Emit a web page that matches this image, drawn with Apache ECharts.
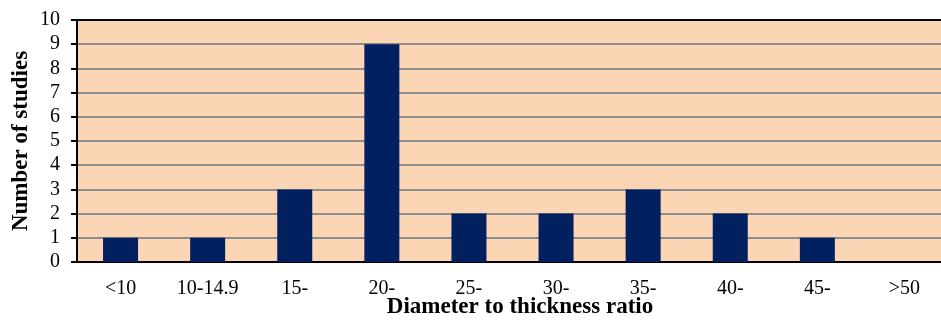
<!DOCTYPE html>
<html><head><meta charset="utf-8">
<script src="https://cdn.jsdelivr.net/npm/echarts@6/dist/echarts.min.js"></script>
<style>html,body{margin:0;padding:0;background:#fff}#c{width:941px;height:321px}</style>
</head><body><div id="c"></div>
<script>
const categories = ['<10','10-14.9','15-','20-','25-','30-','35-','40-','45-','>50'];
const studies = [1,1,3,9,2,2,3,2,1,0];
const yTicks = [0,1,2,3,4,5,6,7,8,9,10];
const yTitle = 'Number of studies';
const xTitle = 'Diameter to thickness ratio';

const font = '"Liberation Serif","Times New Roman",serif';
const chart = echarts.init(document.getElementById('c'), null, {renderer:'canvas'});
chart.setOption({
  animation:false,
  grid:{left:77, top:20, bottom:59, right:-7, outerBoundsMode:'none', containLabel:false,
    show:true, backgroundColor:'#FCD5B4', borderColor:'#000', borderWidth:0},
  xAxis:{type:'category', data:categories,
    axisLine:{lineStyle:{color:'#000', width:2}},
    axisTick:{show:false},
    axisLabel:{color:'#000', fontFamily:font, fontSize:20, margin:17},
    name:xTitle, nameLocation:'middle', nameGap:34, nameMoveOverlap:false,
    nameTextStyle:{color:'#000', fontFamily:font, fontSize:23, fontWeight:'bold', padding:[0,0,0,15]}
  },
  yAxis:{type:'value', min:yTicks[0], max:yTicks[yTicks.length-1], interval:1,
    axisLine:{show:true, lineStyle:{color:'#000', width:2}},
    axisTick:{show:true, length:6, lineStyle:{color:'#000', width:2}},
    axisLabel:{color:'#000', fontFamily:font, fontSize:20, margin:17},
    splitLine:{lineStyle:{color:'#8c8c8c', width:2}},
    name:yTitle, nameLocation:'middle', nameGap:44, nameRotate:90, nameMoveOverlap:false,
    nameTextStyle:{color:'#000', fontFamily:font, fontSize:23, fontWeight:'bold'}
  },
  graphic:[{type:'line', shape:{x1:77, y1:20, x2:941, y2:20}, style:{stroke:'#000', lineWidth:2}, z:10}],
  series:[{type:'bar', data:studies, barWidth:35,
    itemStyle:{color:'#002060', borderWidth:0}}]
});
</script></body></html>
